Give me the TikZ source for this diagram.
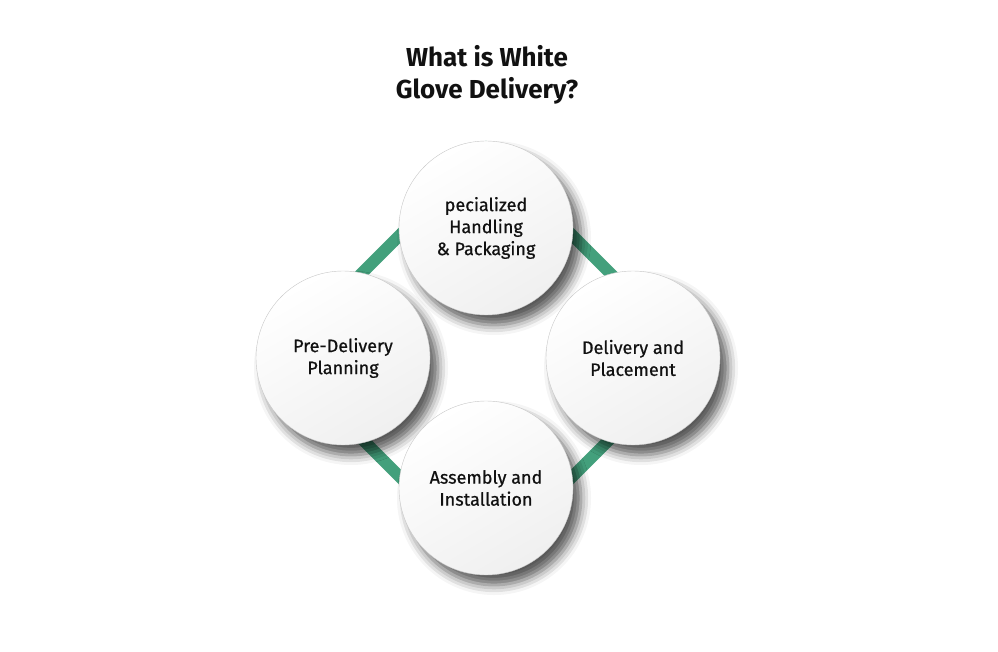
\documentclass[tikz,border=0pt]{standalone}
\usepackage{fontspec}
\setmainfont{Fira Sans}
\newfontfamily\medfont{Fira Sans}[UprightFeatures={FakeBold=0.7}]
\usepackage{tikz}
\usetikzlibrary{shadows.blur,positioning}
\definecolor{glovegreen}{HTML}{43A07C}
\definecolor{inktext}{HTML}{111111}

\begin{document}
\begin{tikzpicture}[
  x=1pt, y=-1pt,
  every node/.style={font=\medfont\fontsize{18}{22}\selectfont, text=inktext},
  stage/.style={circle, minimum size=174pt, inner sep=0pt, align=center,
    draw=black!22, line width=0.4pt, top color=white, bottom color=black!6,
    shading angle=30,
    blur shadow={shadow xshift=8pt, shadow yshift=-10pt, shadow blur radius=10pt, shadow opacity=65}},
  ring/.style={draw=glovegreen, line width=12pt, line join=miter}
]
\useasboundingbox (0,0) rectangle (998,652);

% Title
\node[font=\rmfamily\bfseries\fontsize{26}{32}\selectfont, align=center] (title) at (487,75) {What is White\\Glove Delivery?};

% Green ring behind the stages
\coordinate (ringtop) at (486,149);
\coordinate (ringright) at (693,356);
\coordinate (ringbottom) at (486,563);
\coordinate (ringleft) at (279,356);
\draw[ring] (ringtop) -- (ringright) -- (ringbottom) -- (ringleft) -- cycle;

% Stages
\node[stage] (handling) at (486,228) {pecialized\\Handling\\\& Packaging};
\node[stage] (placement) at (633,358) {Delivery and\\Placement};
\node[stage] (planning) at (343,358) {Pre-Delivery\\Planning};
\node[stage] (assembly) at (486,488) {Assembly and\\Installation};

\end{tikzpicture}
\end{document}
